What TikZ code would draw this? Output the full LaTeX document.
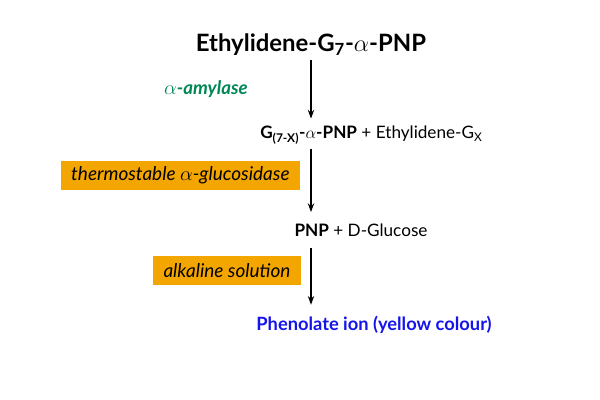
\documentclass[tikz,border=0pt]{standalone}
\usepackage{fontspec}
\setmainfont{Lato}
\usetikzlibrary{arrows.meta}
\definecolor{enzgreen}{RGB}{0,135,85}
\definecolor{boxorange}{RGB}{244,166,0}
\definecolor{ionblue}{RGB}{20,20,235}
\tikzset{
  arr/.style={-{Stealth[length=2.2mm,width=1.6mm]}, line width=0.8pt},
  enzbox/.style={fill=boxorange, minimum height=0.725cm, inner sep=2pt, font=\fontsize{13.5}{15}\selectfont\itshape},
  chem/.style={inner sep=0pt, font=\fontsize{12.2}{14}\selectfont}
}
\begin{document}
\begin{tikzpicture}
  \useasboundingbox (0,0) rectangle (15,10);

  % substrate
  \node[inner sep=0pt, font=\fontsize{17}{20}\selectfont\bfseries] (title) at (7.775,8.875) {Ethylidene-G\textsubscript{7}-$\alpha$-PNP};

  % first step
  \node[font=\fontsize{13.3}{15}\selectfont\bfseries\itshape, text=enzgreen] (amyl) at (5.15,7.775) {$\alpha$-amylase};
  \node[chem, anchor=west] (prod1) at (6.5,6.625) {\textbf{G\textsubscript{(7-X)}-}$\alpha$\textbf{-PNP} + Ethylidene-G\textsubscript{X}};
  \draw[arr, shorten <=3pt, shorten >=5pt] (title.south) -- (title.south |- prod1.north);

  % second step
  \node[enzbox, minimum width=5.975cm] (gluc) at (4.51,5.6125) {thermostable $\alpha$-glucosidase};
  \node[chem] (prod2) at (9.025,4.25) {\textbf{PNP} + D-Glucose};
  \draw[arr, shorten <=3pt, shorten >=8pt] (title.south |- prod1.south) -- (title.south |- prod2.north);

  % third step
  \node[enzbox, minimum width=3.7cm] (alk) at (5.675,3.2375) {alkaline solution};
  \node[chem, font=\fontsize{13}{15}\selectfont\bfseries, text=ionblue] (ion) at (9.35,1.875) {Phenolate ion (yellow colour)};
  \draw[arr, shorten <=8pt, shorten >=8pt] (title.south |- prod2.south) -- (title.south |- ion.north);

\end{tikzpicture}
\end{document}
